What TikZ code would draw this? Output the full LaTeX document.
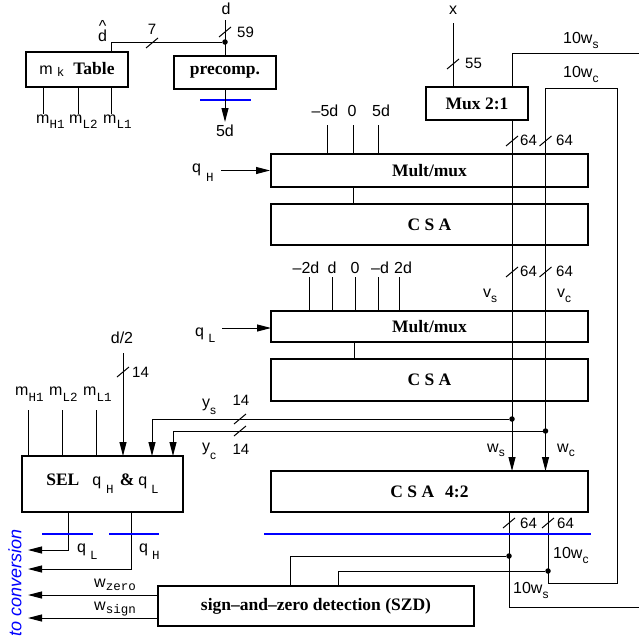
\documentclass[tikz,border=0pt]{standalone}
\usepackage{fontspec}
\setmainfont{Liberation Serif}
\setsansfont{Liberation Sans}
\setmonofont{Liberation Mono}
\usetikzlibrary{arrows.meta}
\newcommand{\tsb}[2][5pt]{\raisebox{-#1}{\fontsize{12.5}{13}\selectfont\ttfamily\mdseries #2}}
\newcommand{\ssb}[2][5pt]{\raisebox{-#1}{\fontsize{12}{13}\selectfont\sffamily\mdseries #2}}
\newcommand{\sv}[1]{{\fontsize{16}{18}\selectfont\sffamily\mdseries #1}}
\newcommand{\bus}[1]{\draw[wire] (#1) ++(-6,5) -- ++(12,-10);}
\begin{document}
\begin{tikzpicture}[x=1pt,y=-1pt,
  box/.style={draw,line width=2pt,inner sep=0pt,font=\fontsize{17.5}{20}\selectfont\bfseries},
  wire/.style={line width=1pt},
  arr/.style={line width=1pt,-{Triangle[length=14pt,width=7pt]}},
  lbl/.style={inner sep=0pt,font=\fontsize{16}{18}\selectfont\sffamily},
  num/.style={inner sep=0pt,font=\fontsize{15}{17}\selectfont\sffamily},
  bline/.style={blue,line width=2pt},
  dot/.style={circle,fill,inner sep=0pt,minimum size=5.5pt}]
\useasboundingbox (0,0) rectangle (639,640);

% ---------- boxes ----------
\node[box,minimum width=102pt,minimum height=35pt] (tab) at (77,69.5) {\sv{m}\hspace{4pt}\tsb[2pt]{k}\hspace{9pt}Table};
\node[box,minimum width=102pt,minimum height=33pt] (pre) at (225,72.5) {precomp.};
\node[box,minimum width=102pt,minimum height=33pt] (mux) at (477,103.5) {Mux 2:1};
\node[box,minimum width=317pt,minimum height=33pt] (mm1) at (429.5,170.5) {Mult/mux};
\node[box,minimum width=317pt,minimum height=41pt] (csa1) at (429.5,224.5) {C S A};
\node[box,minimum width=317pt,minimum height=31pt] (mm2) at (429.5,326.5) {Mult/mux};
\node[box,minimum width=317pt,minimum height=42pt] (csa2) at (429.5,380) {C S A};
\node[box,minimum width=317pt,minimum height=41pt] (csa42) at (429.5,491.5) {C S A\hspace{11pt}4:2};
\node[box,minimum width=161pt,minimum height=56pt] (sel) at (102.5,484) {SEL\hspace{13pt}\sv{q}\hspace{5pt}\tsb[8pt]{H}\hspace{6pt}\&\hspace{4pt}\sv{q}\hspace{4pt}\tsb[8pt]{L}};
\node[box,minimum width=316pt,minimum height=40pt] (szd) at (316,606) {sign\textendash and\textendash zero detection (SZD)};

% ---------- table ----------
\foreach \x in {43,78,111} \draw[wire] (\x,87) -- (\x,114);
\node[lbl,anchor=base west] (mh1) at (36,123) {m\tsb{H1}};
\node[lbl,anchor=base west] (ml2) at (69,123) {m\tsb{L2}};
\node[lbl,anchor=base west] (ml1) at (103,123) {m\tsb{L1}};
\node[lbl,anchor=base] (dh) at (102.5,41.5) {\makebox[0pt][l]{\hspace{0.7pt}\raisebox{10pt}{\textasciicircum}}d};
\node[dot] (j1) at (225,42) {};
\draw[wire] (111,52) -- (111,42) -- (j1);
\bus{152,43}
\node[num] (n7) at (152,29.5) {7};

% ---------- precomp ----------
\node[lbl] (d) at (226,9) {d};
\draw[wire] (225,20) -- (pre.north);
\bus{225,32}
\node[num,anchor=west] (n59) at (237,32) {59};
\draw[bline] (200,100) -- (251,100);
\draw[arr] (pre.south) -- (225,122);
\node[lbl] (fd) at (225,131) {5d};

% ---------- mux ----------
\node[lbl] (x) at (453,10.5) {x};
\draw[wire] (453,23) -- (453,87);
\bus{453,64}
\node[num,anchor=west] (n55) at (465,63) {55};
\draw[wire] (639,53) -- (512,53) -- (512,87);
\node[lbl,anchor=base west] (tws1) at (563,43) {10w\ssb{s}};
\node[lbl,anchor=base west] (twc1) at (563,77) {10w\ssb{c}};

% ---------- Mult/mux 1 ----------
\node[lbl] (i1) at (325,111) {\textendash 5d};
\node[lbl] (i2) at (352,111) {0};
\node[lbl] (i3) at (381,111) {5d};
\foreach \x in {327,353,378} \draw[wire] (\x,125) -- (\x,154);
\node[lbl,anchor=base west] (qh) at (192,172) {q\hspace{5pt}\tsb[9pt]{H}};
\draw[arr] (221,170.5) -- (mm1.west);
\draw[wire] (353,187) -- (353,204);
\bus{512,141}
\bus{545.5,141}
\node[num,anchor=west] (n64a) at (520,140) {64};
\node[num,anchor=west] (n64b) at (556,140) {64};

% ---------- Mult/mux 2 ----------
\node[lbl] (k1) at (306,268) {\textendash 2d};
\node[lbl] (k2) at (332,268) {d};
\node[lbl] (k3) at (355,268) {0};
\node[lbl] (k4) at (380,268) {\textendash d};
\node[lbl] (k5) at (403,268) {2d};
\foreach \x in {309,332,355,378,399} \draw[wire] (\x,277) -- (\x,311);
\node[lbl,anchor=base west] (ql) at (195,336) {q\hspace{4pt}\tsb[6pt]{L}};
\draw[arr] (222,328) -- (271,328);
\draw[wire] (354,342) -- (354,359);
\bus{512,272}
\bus{545.5,272}
\node[num,anchor=west] (n64c) at (520,271) {64};
\node[num,anchor=west] (n64d) at (556,271) {64};
\node[lbl,anchor=base west] (vs) at (483,297) {v\ssb[5pt]{s}};
\node[lbl,anchor=base west] (vc) at (557,297) {v\ssb[5pt]{c}};

% ---------- main verticals ----------
\draw[arr] (512,120) -- (512,471);
\draw[arr] (548,512) -- (548,583) -- (617,583) -- (617,88) -- (545.5,88) -- (545.5,471);
\draw[wire] (509,512) -- (509,607) -- (639,607);

% ---------- y feedback to SEL ----------
\node[dot] (d1) at (512,419) {};
\node[dot] (d2) at (545.5,431) {};
\draw[arr] (d1) -- (152,419) -- (152,456);
\draw[arr] (d2) -- (173,431) -- (173,456);
\bus{240,419}
\bus{240,431}
\node[num] (n14a) at (241,400.5) {14};
\node[num] (n14b) at (241,449) {14};
\node[lbl,anchor=base west] (ys) at (202,407) {y\ssb[7pt]{s}};
\node[lbl,anchor=base west] (yc) at (202,451) {y\ssb[8pt]{c}};
\node[lbl,anchor=base west] (ws) at (487,452) {w\ssb[4pt]{s}};
\node[lbl,anchor=base west] (wc) at (557,452) {w\ssb[4pt]{c}};

% ---------- SEL inputs ----------
\foreach \x in {28,62,96} \draw[wire] (\x,410) -- (\x,456);
\node[lbl,anchor=base west] (sh1) at (15,395) {m\tsb[6pt]{H1}};
\node[lbl,anchor=base west] (sl2) at (49,395) {m\tsb[6pt]{L2}};
\node[lbl,anchor=base west] (sl1) at (83,395) {m\tsb[6pt]{L1}};
\node[lbl] (d2l) at (122,338) {d/2};
\draw[arr] (123,353) -- (123,456);
\bus{123,372}
\node[num,anchor=west] (n14c) at (132,372) {14};

% ---------- bottom ----------
\bus{509,523}
\bus{548,523}
\node[num,anchor=west] (n64e) at (520,523) {64};
\node[num,anchor=west] (n64f) at (557,523) {64};
\draw[bline] (264,534) -- (591,534);
\node[dot] (d3) at (509,556) {};
\node[dot] (d4) at (548,571) {};
\draw[wire] (d3) -- (290,556) -- (290,586);
\draw[wire] (d4) -- (338,571) -- (338,586);
\node[lbl,anchor=base west] (twc2) at (553,558) {10w\ssb{c}};
\node[lbl,anchor=base west] (tws2) at (513,593) {10w\ssb{s}};

% ---------- SEL outputs ----------
\draw[arr] (68,512) -- (68,550) -- (28,550);
\draw[arr] (131,512) -- (131,569) -- (28,569);
\draw[bline] (42,534) -- (93,534);
\draw[bline] (109,534) -- (159,534);
\node[lbl,anchor=base west] (oql) at (77,552) {q\hspace{4pt}\tsb[7pt]{L}};
\node[lbl,anchor=base west] (oqh) at (139,552) {q\hspace{4pt}\tsb[7pt]{H}};

% ---------- SZD outputs ----------
\draw[arr] (158,595) -- (28,595);
\draw[arr] (158,618) -- (28,618);
\node[lbl,anchor=base west] (wz) at (94,587) {w\tsb[3pt]{zero}};
\node[lbl,anchor=base west] (wsg) at (94,610) {w\tsb[3pt]{sign}};
\node[rotate=90,text=blue,inner sep=0pt,font=\fontsize{18}{20}\selectfont\sffamily\itshape] (tc) at (15,583) {to conversion};
\end{tikzpicture}
\end{document}
